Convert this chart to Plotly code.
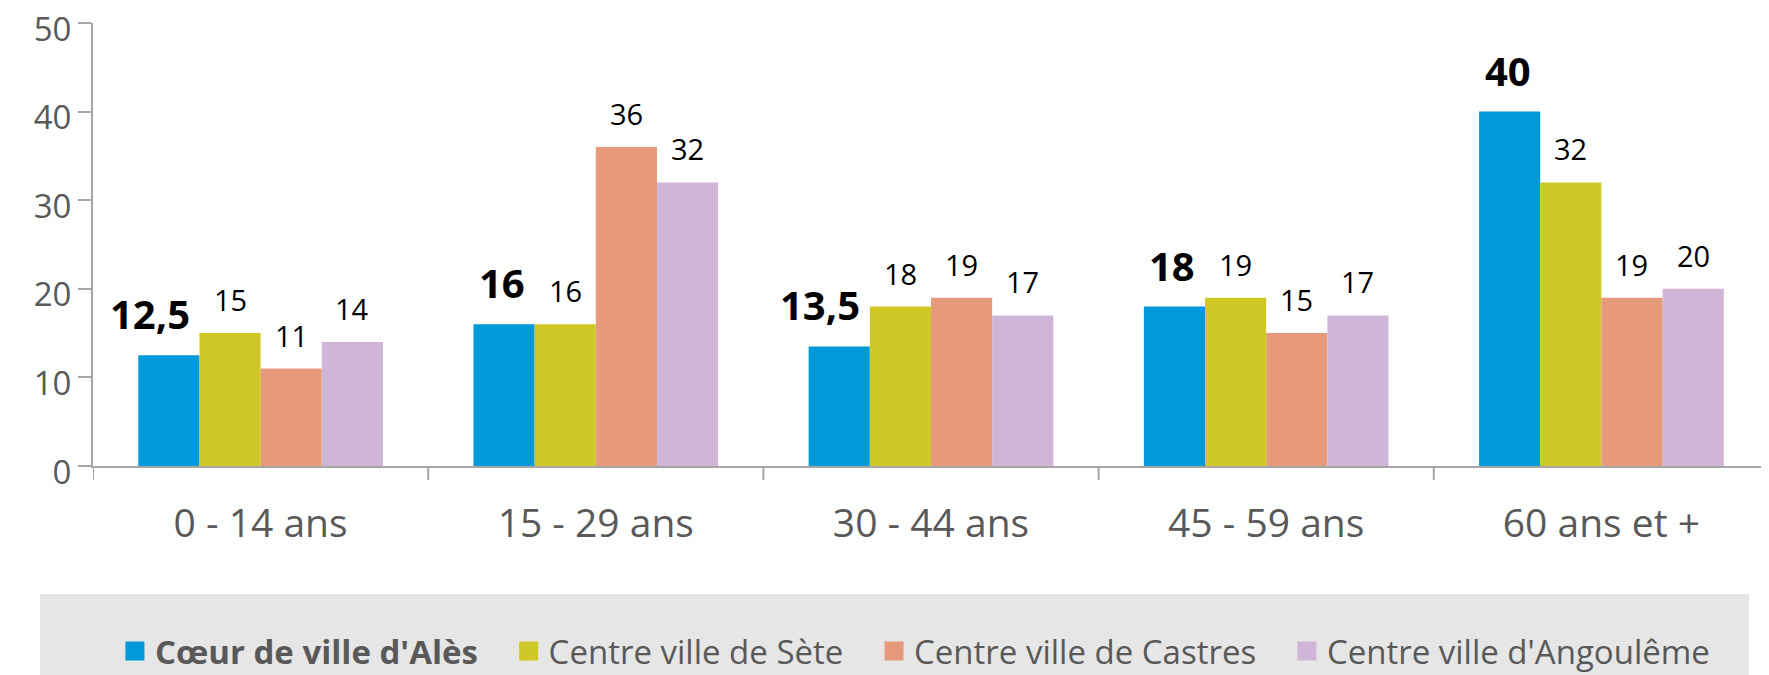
import plotly.graph_objects as go

categories = ["0 - 14 ans", "15 - 29 ans", "30 - 44 ans", "45 - 59 ans", "60 ans et +"]
series_names = ["Cœur de ville d'Alès", "Centre ville de Sète", "Centre ville de Castres", "Centre ville d'Angoulême"]
ales = [12.5, 16, 13.5, 18, 40]
sete = [15, 16, 18, 19, 32]
castres = [11, 36, 19, 15, 19]
angouleme = [14, 32, 17, 17, 20]
y_ticks = [0, 10, 20, 30, 40, 50]

series = [ales, sete, castres, angouleme]
colors = ["#009ADA", "#CFC827", "#E6997B", "#CFB5D6"]
FONT = "Open Sans"
GREY = "#595959"
bargap = 0.27
W, H = 1761, 667  # page body adds an 8px margin

fig = go.Figure()
for k, (name, vals, col) in enumerate(zip(series_names, series, colors)):
    fig.add_trace(go.Bar(
        x=list(range(len(categories))), y=vals, name=name, showlegend=False,
        marker=dict(color=col, line=dict(width=0)),
    ))
# legend entries (larger square swatches)
for k, (name, col) in enumerate(zip(series_names, colors)):
    label = ("<b>" + name + "</b>") if k == 0 else name
    if k < len(series_names) - 1:
        label += "\u00a0\u00a0\u00a0"
    fig.add_trace(go.Scatter(
        x=[None], y=[None], mode="markers", name=label,
        marker=dict(symbol="square", size=16, color=col, line=dict(color=col, width=3)),
    ))

# value labels above bars
bw = (1 - bargap) / len(series)
annotations = []
for k, vals in enumerate(series):
    for i, v in enumerate(vals):
        txt = (f"{v:g}").replace(".", ",")
        bold = k == 0
        annotations.append(dict(
            x=i + (k - (len(series) - 1) / 2) * bw, y=v, xref="x", yref="y",
            text=f"<b>{txt}</b>" if bold else txt,
            showarrow=False, yanchor="bottom",
            yshift=12,
            xshift=(-19 if "," in txt else -2) if bold else 0,
            font=dict(family=FONT, size=40 if bold else 29, color="#000000"),
        ))

shapes = [dict(type="rect", xref="paper", yref="paper",
               x0=-0.0316, x1=0.988, y0=-0.289, y1=-0.48,
               fillcolor="#E6E6E6", line=dict(width=0), layer="below")]

fig.update_layout(
    width=W, height=H,
    margin=dict(l=85, r=0, t=14.5, b=208.5, autoexpand=False),
    paper_bgcolor="white", plot_bgcolor="white",
    barmode="group", bargap=bargap, bargroupgap=0,
    font=dict(family=FONT, color=GREY),
    showlegend=True,
    legend=dict(orientation="h", x=0.515, xanchor="center", xref="container",
                y=0.036, yanchor="middle", yref="container",
                bgcolor="rgba(0,0,0,0)", font=dict(family=FONT, size=33, color=GREY),
                itemwidth=30, traceorder="normal", itemsizing="trace"),
    annotations=annotations, shapes=shapes,
    xaxis=dict(tickmode="array", tickvals=list(range(len(categories))), ticktext=categories,
               range=[-0.5, len(categories) - 0.5],
               showline=True, linecolor="#A6A6A6", linewidth=2,
               ticks="", showgrid=False, zeroline=False,
               tickfont=dict(family=FONT, size=39, color=GREY), ticklabelstandoff=22),
    yaxis=dict(range=[0, 50], tickvals=y_ticks, showline=True, linecolor="#A6A6A6", linewidth=2,
               ticks="outside", ticklen=13, tickcolor="#A6A6A6", tickwidth=2,
               showgrid=False, zeroline=False, ticklabeloverflow="allow",
               ticklabelshift=6,
               tickfont=dict(family=FONT, size=33, color=GREY)),
)

# x-axis boundary tick marks between categories
for b in range(len(categories) + 1):
    fig.add_shape(type="line", xref="x", yref="paper", x0=b - 0.5, x1=b - 0.5,
                  y0=0, y1=-0.032, line=dict(color="#A6A6A6", width=2))

fig.write_html("out.html")
